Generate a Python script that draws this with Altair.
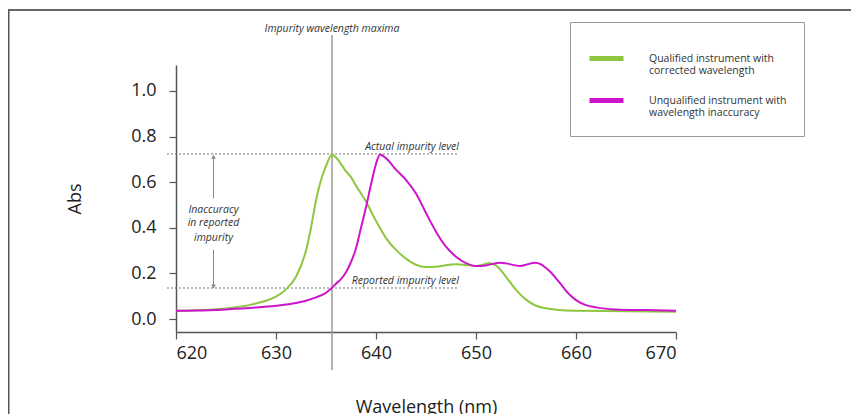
import altair as alt
import pandas as pd

# ---- data ----
SERIES = ["Qualified instrument with corrected wavelength",
          "Unqualified instrument with wavelength inaccuracy"]
COLORS = ["#8dc63f", "#cc14cc"]

green_x = [620, 622, 624, 626, 627, 628, 629, 630, 631, 632, 633, 633.5, 634, 634.5,
           635, 635.6, 636, 637, 637.5, 638, 639, 640, 641, 642, 643, 644, 645, 646,
           647, 648, 649, 650, 651, 651.3, 652, 653, 654, 655, 656, 657, 658, 660,
           665, 670]
green_y = [0.036, 0.038, 0.043, 0.052, 0.058, 0.068, 0.080, 0.098, 0.130, 0.185,
           0.300, 0.400, 0.520, 0.610, 0.670, 0.722, 0.708, 0.648, 0.622, 0.585,
           0.515, 0.430, 0.355, 0.303, 0.265, 0.238, 0.228, 0.229, 0.236, 0.240,
           0.237, 0.233, 0.242, 0.246, 0.235, 0.185, 0.128, 0.085, 0.058, 0.047,
           0.041, 0.036, 0.034, 0.032]

magenta_x = [620, 622, 625, 628, 630, 632, 633, 634, 635, 635.6, 636, 636.5, 637,
             637.5, 638, 638.5, 639, 639.5, 640, 640.4, 641, 642, 643, 644, 645, 646,
             647, 648, 649, 650, 651, 652.4, 653, 654.4, 655, 655.9, 656.5, 657.4,
             658.4, 659.4, 660, 661, 662, 664, 667, 670]
magenta_y = [0.036, 0.037, 0.042, 0.050, 0.058, 0.070, 0.080, 0.095, 0.115, 0.137,
             0.155, 0.175, 0.205, 0.250, 0.310, 0.400, 0.490, 0.590, 0.680, 0.722,
             0.705, 0.655, 0.610, 0.550, 0.465, 0.383, 0.317, 0.273, 0.245, 0.232,
             0.235, 0.247, 0.244, 0.232, 0.238, 0.247, 0.240, 0.208, 0.157, 0.105,
             0.083, 0.061, 0.051, 0.042, 0.039, 0.036]

x_ticks = [620, 630, 640, 650, 660, 670]
y_ticks = [0.0, 0.2, 0.4, 0.6, 0.8, 1.0]

maxima_x = 635.6
maxima_label = "Impurity wavelength maxima"
level_values = [0.724, 0.136]
level_labels = ["Actual impurity level", "Reported impurity level"]
level_x_start, level_x_end = 619.1, 648.3
arrow_x = 623.75
arrow_top, arrow_gap_top, arrow_gap_bottom, arrow_bottom = 0.712, 0.529, 0.303, 0.142
arrow_text = ["Inaccuracy", "in reported", "impurity"]
arrow_text_y = [0.478, 0.420, 0.355]

FONT = "Open Sans"

curves = pd.concat([
    pd.DataFrame({"wl": green_x, "abs": green_y, "series": SERIES[0], "order": 0}),
    pd.DataFrame({"wl": magenta_x, "abs": magenta_y, "series": SERIES[1], "order": 1}),
])

xs = alt.Scale(domain=[620, 670], nice=False)
ys = alt.Scale(domain=[-0.057, 1.114], nice=False)

label_expr = ("datum.value == '%s' ? ['Qualified instrument with', 'corrected wavelength']"
              " : ['Unqualified instrument with', 'wavelength inaccuracy']") % SERIES[0]

lines = alt.Chart(curves).mark_line(strokeWidth=2, interpolate="monotone").encode(
    x=alt.X("wl:Q", scale=xs, title="Wavelength (nm)",
            axis=alt.Axis(values=x_ticks, format="d", grid=False, tickSize=7,
                          labelPadding=5, titlePadding=36)),
    y=alt.Y("abs:Q", scale=ys, title="Abs",
            axis=alt.Axis(values=y_ticks, format=".1f", grid=False, tickSize=7,
                          labelPadding=13, titlePadding=46)),
    color=alt.Color("series:N", scale=alt.Scale(domain=SERIES, range=COLORS),
                    legend=alt.Legend(orient="none", legendX=394, legendY=-43, title=None,
                                      symbolType="stroke", symbolStrokeWidth=5,
                                      symbolSize=1156, labelOffset=23, padding=17,
                                      rowPadding=4, strokeColor="#9a9a9a",
                                      fillColor="white", labelExpr=label_expr,
                                      labelFont=FONT, labelFontSize=10.5,
                                      labelColor="#333", labelLimit=300)),
    detail="order:N",
)

# vertical "maxima" rule
vdf = pd.DataFrame({"x": [maxima_x], "top": [1.246], "bot": [-0.224], "t": [maxima_label]})
vrule = alt.Chart(vdf).mark_rule(color="#9a9a9a", strokeWidth=1.5).encode(
    x=alt.X("x:Q", scale=xs), y=alt.Y("top:Q", scale=ys), y2="bot:Q")
vtext = alt.Chart(vdf).mark_text(font=FONT, fontSize=10.5, fontStyle="italic",
                                 color="#333", baseline="bottom", dy=-1).encode(
    x=alt.X("x:Q", scale=xs), y=alt.Y("top:Q", scale=ys), text="t:N")

# dotted level lines
ldf = pd.DataFrame({"y": level_values, "x1": level_x_start, "x2": level_x_end,
                    "t": level_labels})
lrules = alt.Chart(ldf).mark_rule(color="#777", strokeWidth=1, strokeDash=[2, 2]).encode(
    x=alt.X("x1:Q", scale=xs), x2="x2:Q", y=alt.Y("y:Q", scale=ys))
ltext = alt.Chart(ldf).mark_text(font=FONT, fontSize=10.5, fontStyle="italic",
                                 color="#333", align="right", baseline="bottom",
                                 dy=-2).encode(
    x=alt.X("x2:Q", scale=xs), y=alt.Y("y:Q", scale=ys), text="t:N")

# double arrow
adf = pd.DataFrame({"x": arrow_x, "y1": [arrow_top, arrow_gap_bottom],
                    "y2": [arrow_gap_top, arrow_bottom]})
arules = alt.Chart(adf).mark_rule(color="#888", strokeWidth=1).encode(
    x=alt.X("x:Q", scale=xs), y=alt.Y("y1:Q", scale=ys), y2="y2:Q")
hdf = pd.DataFrame({"x": arrow_x, "y": [arrow_top, arrow_bottom],
                    "shape": ["triangle-up", "triangle-down"]})
heads = alt.Chart(hdf).mark_point(filled=True, color="#888", size=22, opacity=1).encode(
    x=alt.X("x:Q", scale=xs), y=alt.Y("y:Q", scale=ys),
    shape=alt.Shape("shape:N", scale=None))
tdf = pd.DataFrame({"x": arrow_x, "y": arrow_text_y, "t": arrow_text})
atext = alt.Chart(tdf).mark_text(font=FONT, fontSize=10.5, fontStyle="italic",
                                 color="#333").encode(
    x=alt.X("x:Q", scale=xs), y=alt.Y("y:Q", scale=ys), text="t:N")

# outer frame (top and left edges)
frame_top = alt.Chart(pd.DataFrame({"a": [0]})).mark_rule(
    color="#666", strokeWidth=2).encode(
    x=alt.value(-169), x2=alt.value(690), y=alt.value(-55))
frame_left = alt.Chart(pd.DataFrame({"a": [0]})).mark_rule(
    color="#555", strokeWidth=3).encode(
    x=alt.value(-168), y=alt.value(-55), y2=alt.value(400))

chart = alt.layer(frame_top, frame_left, vrule, lrules, arules, heads, atext, vtext,
                  ltext, lines).properties(
    width=500, height=267,
    autosize=alt.AutoSizeParams(type="none"),
    padding={"left": 168, "top": 57, "right": 175, "bottom": 84},
    background="white",
).configure_view(strokeWidth=0).configure_axis(
    domainColor="#555", domainWidth=1.5, tickColor="#555", tickWidth=1.2,
    labelFont=FONT, labelFontSize=18, labelColor="#222",
    titleFont=FONT, titleFontSize=18, titleFontWeight="normal", titleColor="#222",
)

chart.save("out.html", embed_options={"renderer": "svg", "actions": False})
